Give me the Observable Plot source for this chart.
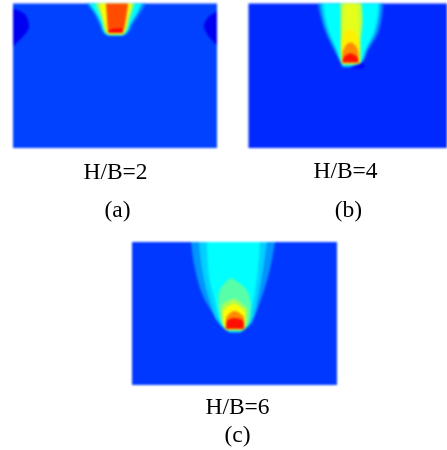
<!DOCTYPE html>
<html><head><meta charset="utf-8">
<script src="https://cdn.jsdelivr.net/npm/d3@7"></script>
<script src="https://cdn.jsdelivr.net/npm/@observablehq/plot@0.6"></script>
<style>
html,body{margin:0;padding:0;background:#fff}
svg{display:block}
g[aria-label="text"]{filter:blur(.3px)}
</style></head><body><div id="chart"></div>
<script>
// Panels: sheet origin and extent
const panelNames = ["a", "b", "c"];
const panelLeft  = {a: 13, b: 248.5, c: 132};
const panelTop   = {a: 3.5, b: 3.5, c: 242};
const panelW     = {a: 204, b: 198.5, c: 205};
const panelH     = {a: 144.5, b: 144.5, c: 143};
const panelBase  = {a: 0.19, b: 0.165, c: 0.18};

// Jet colour map stops
const jetStops = [0, 0.125, 0.375, 0.625, 0.875, 1];
const jetColors = ["#00007f", "#0000ff", "#00ffff", "#ffff00", "#ff0000", "#7f0000"];

// Contour bands, outermost first: [field level, [[depth, left, right], ...]]
const bandsA = [
  [0.11, [[5,0,0],[8,0,8],[14,0,14],[23,0,16],[32,0,11],[38,0,5],[43,0,0]]],
  [0.11, [[8,204,204],[12,197,204],[23,191,204],[32,195,204],[38,200,204],[42,204,204]]],
  [0.26, [[0,73,133],[10,81,127],[20,86,120],[30,91,114],[32.5,95,110]]],
  [0.37, [[0,76,129],[10,83,124],[20,88,118],[30,92,113],[32,96,109]]],
  [0.50, [[0,82,122],[15,88,117],[30,93,112],[31.5,96,109]]],
  [0.62, [[0,86,119],[15,90,115],[29,94,111],[31,96,109]]],
  [0.80, [[0,93,115],[15,94,113],[28,95,110],[29.5,96,109]]],
  [0.875,[[25,102,109],[27,96,110],[29,95,110]]]
];
const bandsB = [
  [0.13, [[60,103,115],[63,103,116],[65,106,113]]],
  [0.25, [[0,69,135],[29,77,130],[46,85,120],[59,92,113],[64,94,100]]],
  [0.33, [[0,72,132],[29,79,127],[46,87,118],[59,92,113],[63,94,102]]],
  [0.375,[[0,75,130],[29,81,125],[46,88,117],[59,93,112],[62,95,104]]],
  [0.56, [[0,92,113],[16,92,114],[39,92,112],[59,93,112],[61,95,108]]],
  [0.60, [[0,96,109],[16,95,110],[26,94,110],[59,93,111]]],
  [0.64, [[26,101,103],[28,97,106],[33,95,108],[39,93,111],[60,93,111]]],
  [0.74, [[39,101,103],[41,98,106],[44,96,108],[51,94,110],[59,94,110]]],
  [0.86, [[50,101,103],[52,97,107],[54,95,109],[59,94,110]]]
];
const bandsC = [
  [0.27, [[0,59,143],[27,63,138],[60,74,128],[77,85,121],[86,91,115],[91,98,108]]],
  [0.33, [[0,67,135],[27,70,131],[60,78,125],[80,86,120],[86,92,114],[90,98,108]]],
  [0.375,[[0,75,128],[27,76,126],[60,83,121],[83,90,115],[89,96,110]]],
  [0.46, [[36,98,99],[43,91,110],[50,87,116],[57,86,118],[70,87,119],[83,91,116],[89,96,108]]],
  [0.54, [[57,101,104],[62,91,110],[67,89,115],[80,90,115],[88,94,112]]],
  [0.62, [[62,100,104],[65,95,108],[70,91,113],[80,91,113],[88,94,112]]],
  [0.74, [[69,101,104],[73,96,110],[77,94,112],[86,94,112]]],
  [0.86, [[76,101,104],[78,96,110],[81,94,112],[87,94,112]]]
];
const bandsByPanel = {a: bandsA, b: bandsB, c: bandsC};

// Captions
const captionText = ["H/B=2", "(a)", "H/B=4", "(b)", "H/B=6", "(c)"];
const captionX = [115, 117, 345, 348, 237, 237];
const captionY = [174, 212, 173, 212, 409, 437];

// Tables for the marks
const backgrounds = panelNames.map(p => ({
  x1: panelLeft[p], x2: panelLeft[p] + panelW[p],
  y1: panelTop[p], y2: panelTop[p] + panelH[p], level: panelBase[p]
}));
const contourRows = panelNames.flatMap(p => bandsByPanel[p].flatMap(([level, rows], i) =>
  rows.map(([d, l, r]) => ({
    band: p + i, level,
    y: panelTop[p] + d, x1: panelLeft[p] + l, x2: panelLeft[p] + r
  }))
));
const captions = captionText.map((t, i) => ({t, x: captionX[i], y: captionY[i]}));

const chart = Plot.plot({
  width: 447, height: 450,
  marginTop: 0, marginRight: 0, marginBottom: 0, marginLeft: 0,
  x: {domain: [0, 447], axis: null},
  y: {domain: [0, 450], range: [0, 450], axis: null},
  color: {type: "linear", domain: jetStops, range: jetColors},
  marks: [
    Plot.rect(backgrounds, {x1: "x1", x2: "x2", y1: "y1", y2: "y2", fill: "level"}),
    Plot.areaX(contourRows, {y: "y", x1: "x1", x2: "x2", z: "band", fill: "level", curve: "monotone-y"}),
    Plot.text(captions, {x: "x", y: "y", text: "t", textAnchor: "middle", lineAnchor: "bottom", dy: 4,
      fontFamily: "Liberation Serif", fontSize: 23.5, fill: "#000"})
  ]
});
// Soften the field as one image, like the resampled original
const field = document.createElementNS("http://www.w3.org/2000/svg", "g");
field.setAttribute("style", "filter:blur(1px)");
const rectG = chart.querySelector('g[aria-label="rect"]');
const areaG = chart.querySelector('g[aria-label="area"]');
rectG.before(field);
field.append(rectG, areaG);
document.getElementById("chart").append(chart);
</script></body></html>
